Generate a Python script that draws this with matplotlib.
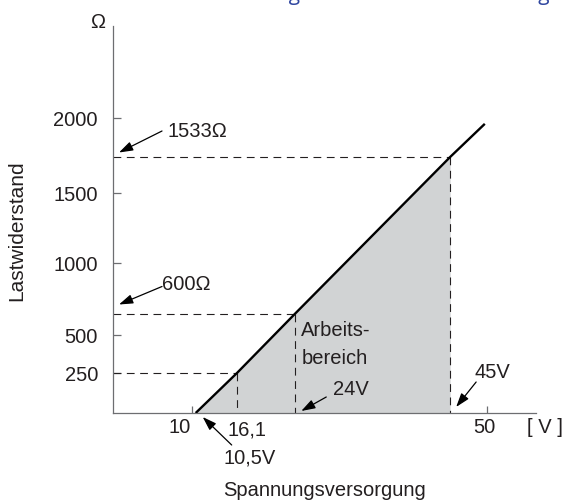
import numpy as np
import matplotlib.pyplot as plt
from matplotlib.transforms import offset_copy

plt.rcParams['font.family'] = ['Liberation Sans', 'DejaVu Sans']

# working curve: supply voltage [V] vs. load resistance [Ohm]
volts = [10.5, 16.1, 24, 45, 49.7]
ohms = [0, 250, 600, 1533, 1930]

# dashed guide points (voltage, resistance)
guide_volts = [16.1, 24, 45]
guide_ohms = [250, 600, 1533]

ytick_vals = [250, 500, 1000, 1500, 2000]
xtick_vals = [10, 50]

# the y axis of the drawing is schematic (not linear), so use a piecewise scale
y_scale_vals = [0, 250, 500, 600, 1000, 1500, 1533, 2000, 3100]
y_scale_pos = [0, 40, 78.5, 99.5, 150.5, 220, 256, 295, 387]

def y_forward(v):
    return np.interp(v, y_scale_vals, y_scale_pos)

def y_inverse(p):
    return np.interp(p, y_scale_pos, y_scale_vals)

ink = '#231f20'
axis_col = '#6d6e71'
fs = 14.5

fig = plt.figure(figsize=(5.74, 5.02), dpi=100)
ax = fig.add_axes([113 / 574, 88 / 502, 423 / 574, 387 / 502])
ax.set_yscale('function', functions=(y_forward, y_inverse))
ax.set_xlim(-0.71, 56.64)
ax.set_ylim(0, 3100)

# shaded working area under the line
ax.fill_between(volts[:4], ohms[:4], 0, color='#d1d3d4', lw=0, zorder=1)

# dashed guides
x0 = ax.get_xlim()[0]
for gv, go in zip(guide_volts, guide_ohms):
    ax.plot([x0, gv], [go, go], color=ink, lw=0.8, dashes=(7, 5), zorder=2)
    ax.plot([gv, gv], [go, 0], color=ink, lw=0.8, dashes=(7, 5), zorder=2)

# main line
ax.plot(volts, ohms, color='black', lw=1.7, solid_capstyle='butt', zorder=3)

# axes styling
for s in ['top', 'right']:
    ax.spines[s].set_visible(False)
for s in ['left', 'bottom']:
    ax.spines[s].set_color(axis_col)
    ax.spines[s].set_linewidth(0.9)
ax.set_yticks(ytick_vals)
ax.set_yticklabels([str(v) for v in ytick_vals])
ax.set_xticks(xtick_vals)
ax.set_xticklabels([])
ax.tick_params(axis='y', direction='in', length=5.8, width=0.9, color=axis_col,
               pad=10.8, labelsize=fs, labelcolor=ink)
ax.tick_params(axis='x', direction='in', length=5, width=0.9, color=axis_col)
ax.yaxis.set_minor_locator(plt.NullLocator())
ax.xaxis.set_minor_locator(plt.NullLocator())

px = 0.72  # points per pixel at 100 dpi

def label(txt, xy, off, ha='center', va='center'):
    ax.annotate(txt, xy=xy, xytext=(off[0] * px, off[1] * px), textcoords='offset points',
                ha=ha, va=va, fontsize=fs, color=ink, annotation_clip=False)

def draw_arrow(anchor, tip, tail):
    # tip and tail are pixel offsets from the data anchor
    t_tip = offset_copy(ax.transData, fig=fig, x=tip[0], y=tip[1], units='dots')
    t_tail = offset_copy(ax.transData, fig=fig, x=tail[0], y=tail[1], units='dots')
    ax.annotate('', xy=anchor, xycoords=t_tip, xytext=anchor, textcoords=t_tail,
                arrowprops=dict(arrowstyle='-|>,head_length=0.6,head_width=0.2',
                                color='black', lw=0.9, mutation_scale=14,
                                shrinkA=0, shrinkB=0),
                annotation_clip=False)

# x tick labels
label('10', (10, 0), (-12, -14))
label('50', (50, 0), (-3, -14))

# resistance labels
label('1533\u03a9', (x0, 1533), (84, 26))
draw_arrow((x0, 1533), (6, 4.5), (49, 26))
label('600\u03a9', (x0, 600), (73, 30))
draw_arrow((x0, 600), (6, 9), (49, 27))

# working area text
label('Arbeits-', (24, 600), (6, -16), ha='left')
label('bereich', (24, 600), (6, -44), ha='left')

# voltage labels
label('24V', (24, 0), (56, 24))
draw_arrow((24, 0), (6, 2), (31, 16))
label('45V', (45, 0), (42, 41))
draw_arrow((45, 0), (6, 6), (26, 31))
label('16,1', (16.1, 0), (10, -16))
label('10,5V', (10.5, 0), (54, -44))
draw_arrow((10.5, 0), (7, -4), (36, -32))

# axis titles
fig.text(545 / 574, 1 - 428 / 502, '[ V ]', ha='center', va='center', fontsize=fs, color=ink)
fig.text(98 / 574, 1 - 23 / 502, '\u03a9', ha='center', va='center', fontsize=fs, color=ink)
fig.text(17 / 574, 1 - 231 / 502, 'Lastwiderstand', rotation=90, ha='center', va='center',
         fontsize=15, color=ink)
fig.text(325 / 574, 1 - 491 / 502, 'Spannungsversorgung', ha='center', va='center',
         fontsize=fs, color=ink)

# heading of the page, cut off at the top edge
fig.text(187 / 574, 1.0, 'B\u00fcrdendiagramm \u00fcber der Belastung', ha='left',
         va='baseline', fontsize=15, color='#3047a0', family=['Open Sans', 'DejaVu Sans'])

fig.savefig('out.png', dpi=100)
